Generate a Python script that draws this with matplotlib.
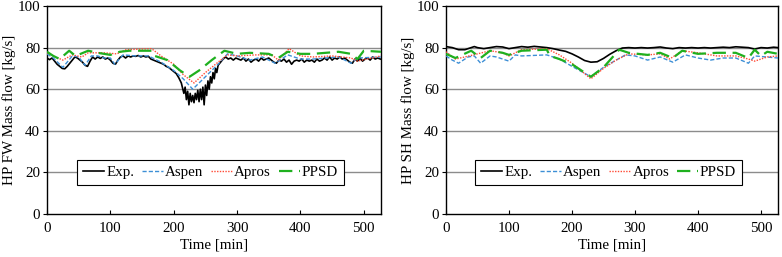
import matplotlib
matplotlib.use("Agg")
import matplotlib.pyplot as plt

plt.rcParams['font.family'] = ['Liberation Serif', 'DejaVu Serif']
plt.rcParams['font.size'] = 10.8

# ---------------- Left panel: HP FW mass flow ----------------
fw_exp_t = [0, 4, 8, 12, 16, 20, 24, 28, 32, 36, 40, 44, 48, 52, 56, 60, 64, 68, 72, 76,
            80, 84, 88, 92, 96, 100, 104, 108, 112, 116, 120, 124, 128, 132, 136, 140, 144,
            148, 152, 156, 160, 164, 168, 172, 176, 180, 184, 188, 192, 196, 200, 204, 208,
            212, 216, 218, 220, 222, 224, 226, 228, 230, 232, 234, 236, 238, 240, 242, 244,
            246, 248, 250, 252, 254, 256, 258, 260, 262, 264, 266, 268, 270, 274, 278, 282,
            286, 290, 294, 298, 302, 306, 310, 314, 318, 322, 326, 330, 334, 338, 342, 346,
            350, 354, 358, 362, 366, 370, 374, 378, 382, 386, 390, 394, 398, 402, 406, 410,
            414, 418, 422, 426, 430, 434, 438, 442, 446, 450, 454, 458, 462, 466, 470, 474,
            478, 482, 486, 490, 494, 498, 502, 506, 510, 514, 518, 522, 526]
fw_exp_v = [75.0, 74.2, 75.0, 73.5, 72.0, 71.0, 70.0, 69.8, 71.0, 72.5, 74.0, 75.5, 75.0, 74.0,
            73.0, 71.5, 71.0, 73.5, 75.5, 74.5, 75.5, 74.8, 75.5, 74.5, 75.0, 74.0, 72.5, 72.0,
            74.0, 75.5, 76.0, 75.0, 76.0, 75.5, 76.0, 75.8, 76.2, 75.5, 76.0, 75.5, 75.8, 74.5,
            74.0, 73.5, 73.0, 72.5, 72.0, 71.0, 70.5, 69.5, 68.5, 67.5, 65.5, 63.0, 58.0, 61.0,
            55.0, 59.0, 52.5, 58.0, 54.0, 57.0, 53.5, 58.0, 55.0, 59.5, 54.0, 60.0, 55.0, 61.0,
            52.5, 62.0, 57.0, 64.0, 60.0, 66.0, 63.0, 68.0, 65.0, 70.0, 68.0, 71.5, 73.0, 74.5,
            75.5, 74.5, 75.0, 74.0, 75.0, 74.5, 74.0, 75.0, 73.5, 74.5, 73.0, 74.0, 74.5, 73.5,
            75.0, 74.0, 74.5, 75.0, 74.0, 73.0, 72.5, 74.0, 73.5, 74.5, 73.0, 74.0, 72.0, 73.5,
            74.0, 73.5, 74.5, 73.0, 74.0, 73.5, 74.0, 73.0, 74.5, 73.5, 74.0, 75.0, 74.0, 75.5,
            74.0, 75.0, 74.5, 75.5, 74.5, 75.0, 74.0, 73.0, 72.5, 74.5, 73.5, 75.0, 73.5, 74.5,
            75.0, 74.0, 75.5, 74.5, 75.0, 74.5]

fw_aspen_t = [0, 10, 25, 40, 50, 60, 70, 80, 90, 100, 107, 120, 140, 160, 180, 200, 215, 230,
              250, 270, 285, 300, 320, 340, 360, 380, 400, 420, 440, 460, 480, 490, 527]
fw_aspen_v = [77.0, 75.0, 70.5, 76.0, 75.5, 71.5, 76.0, 76.0, 75.0, 75.0, 72.0, 76.5, 76.0, 76.0,
              73.0, 69.0, 65.0, 60.0, 66.0, 72.0, 77.0, 76.0, 74.0, 75.5, 72.5, 76.5, 74.5, 74.5,
              75.0, 75.5, 72.5, 75.0, 75.5]

fw_apros_t = [0, 10, 25, 40, 55, 65, 90, 110, 125, 165, 180, 200, 215, 232, 250, 270, 285, 300,
              330, 355, 365, 382, 400, 420, 450, 480, 490, 527]
fw_apros_v = [77.5, 76.0, 74.0, 76.5, 75.5, 77.5, 77.5, 77.0, 79.0, 79.5, 76.0, 72.0, 67.0, 63.0,
              68.0, 73.0, 76.5, 76.0, 76.5, 76.5, 74.0, 79.5, 76.0, 75.5, 76.0, 75.0, 73.5, 76.0]

fw_ppsd_t = [0, 10, 20, 35, 45, 65, 80, 100, 115, 130, 165, 170, 190, 210, 225, 240, 260, 280,
             300, 320, 350, 365, 380, 400, 420, 440, 460, 480, 490, 500, 527]
fw_ppsd_v = [78.0, 76.0, 74.5, 78.5, 76.0, 78.5, 77.5, 76.5, 78.0, 78.5, 78.5, 76.0, 74.0, 69.0,
             66.0, 69.0, 74.0, 78.5, 77.0, 77.5, 77.0, 75.0, 78.0, 77.0, 77.0, 77.5, 78.0, 77.0,
             74.5, 78.5, 78.0]

# ---------------- Right panel: HP SH mass flow ----------------
sh_exp_t = [0, 10, 20, 30, 40, 45, 50, 60, 70, 80, 90, 100, 110, 120, 130, 140, 150, 160, 170,
            180, 190, 200, 210, 220, 230, 240, 250, 260, 270, 280, 290, 300, 310, 320, 330, 340,
            350, 360, 370, 380, 390, 400, 410, 420, 430, 440, 450, 460, 470, 480, 490, 500, 510,
            520, 527]
sh_exp_v = [80.5, 80.0, 79.0, 79.0, 80.0, 80.5, 80.0, 79.5, 80.0, 80.5, 80.3, 79.5, 80.0, 80.5,
            80.2, 80.6, 80.3, 80.0, 79.5, 78.8, 78.2, 77.0, 75.5, 73.8, 73.0, 73.2, 74.8, 76.8,
            78.5, 79.8, 80.0, 79.8, 80.0, 79.8, 80.0, 80.3, 79.8, 79.5, 80.0, 79.8, 80.0, 79.8,
            80.0, 79.8, 80.0, 80.2, 80.0, 80.4, 80.2, 80.0, 79.3, 80.0, 79.8, 80.2, 80.0]

sh_aspen_t = [0, 10, 20, 35, 45, 55, 70, 80, 100, 110, 120, 160, 180, 200, 230, 250, 270, 285,
              300, 320, 340, 360, 380, 400, 420, 440, 460, 480, 490, 527]
sh_aspen_v = [76.0, 74.0, 72.5, 75.5, 76.0, 72.5, 76.0, 75.5, 73.5, 76.5, 76.0, 76.5, 74.5, 71.0,
              66.0, 70.5, 74.0, 76.5, 76.0, 74.0, 75.5, 73.0, 76.5, 75.0, 74.0, 75.0, 75.0, 72.5,
              76.0, 75.0]

sh_apros_t = [0, 15, 30, 50, 70, 90, 100, 120, 160, 180, 200, 230, 250, 270, 290, 320, 340, 355,
              375, 400, 430, 460, 480, 490, 510, 527]
sh_apros_v = [78.0, 74.5, 75.5, 77.0, 78.5, 77.5, 76.0, 79.0, 79.5, 76.5, 72.5, 65.0, 70.0, 74.0,
              77.0, 76.5, 77.0, 74.5, 78.5, 77.5, 76.0, 76.0, 74.5, 73.5, 75.5, 76.0]

sh_ppsd_t = [0, 15, 40, 55, 70, 90, 100, 120, 160, 165, 180, 200, 230, 250, 275, 290, 320, 340,
             360, 375, 400, 430, 460, 480, 490, 500, 510, 527]
sh_ppsd_v = [77.0, 75.0, 78.5, 75.0, 78.5, 77.5, 76.5, 78.5, 79.0, 76.0, 74.5, 72.0, 66.0, 70.5,
             79.0, 77.5, 76.5, 77.5, 75.0, 78.5, 77.0, 77.5, 77.5, 75.0, 79.0, 76.0, 78.0, 77.0]

legend_labels = ["Exp.", "Aspen", "Apros", "PPSD"]
x_ticks = [0, 100, 200, 300, 400, 500]
y_ticks = [0, 20, 40, 60, 80, 100]

fig = plt.figure(figsize=(7.82, 2.57), dpi=100)
ax1 = fig.add_axes([0.0601, 0.1673, 0.427, 0.8093])
ax2 = fig.add_axes([0.5703, 0.1673, 0.4246, 0.8093])

panels = [
    (ax1, "HP FW Mass flow [kg/s]",
     (fw_exp_t, fw_exp_v), (fw_aspen_t, fw_aspen_v), (fw_apros_t, fw_apros_v), (fw_ppsd_t, fw_ppsd_v)),
    (ax2, "HP SH Mass flow [kg/s]",
     (sh_exp_t, sh_exp_v), (sh_aspen_t, sh_aspen_v), (sh_apros_t, sh_apros_v), (sh_ppsd_t, sh_ppsd_v)),
]

for ax, ylab, exp, asp, apr, pps in panels:
    for y in [20, 40, 60, 80]:
        ax.axhline(y, color='#8c8c8c', lw=1.0, zorder=0)
    ax.plot(*exp, color='black', lw=1.2, label=legend_labels[0], zorder=3)
    ax.plot(*asp, color='#3d8fd6', lw=1.0, ls=(0, (3, 1.5)), label=legend_labels[1], zorder=4)
    ax.plot(*apr, color='#ff4a35', lw=1.0, ls=(0, (1, 1)), label=legend_labels[2], zorder=5)
    ax.plot(*pps, color='#1fb01f', lw=1.6, ls=(0, (6, 3)), label=legend_labels[3], zorder=6)
    ax.set_xlim(0, 527)
    ax.set_ylim(0, 100)
    ax.set_xticks(x_ticks)
    ax.set_yticks(y_ticks)
    ax.tick_params(axis='x', direction='in', length=3, width=0.8, labelsize=10.8, pad=6)
    ax.tick_params(axis='y', direction='out', length=3, width=0.8, labelsize=10.8, pad=2)
    ax.set_xlabel("Time [min]", fontsize=10.8, labelpad=2)
    ax.set_ylabel(ylab, fontsize=10.8, labelpad=1)
    for s in ax.spines.values():
        s.set_linewidth(1.0)
        s.set_color('black')
    leg = ax.legend(loc='center', bbox_to_anchor=(0.49, 0.2), ncol=4, fontsize=10.8,
                    frameon=True, fancybox=False, edgecolor='black', framealpha=1,
                    handlelength=1.4, handletextpad=0.15, columnspacing=0.5,
                    borderpad=0.4, borderaxespad=0)
    leg.get_frame().set_linewidth(0.8)

fig.savefig("out.png", dpi=100)
